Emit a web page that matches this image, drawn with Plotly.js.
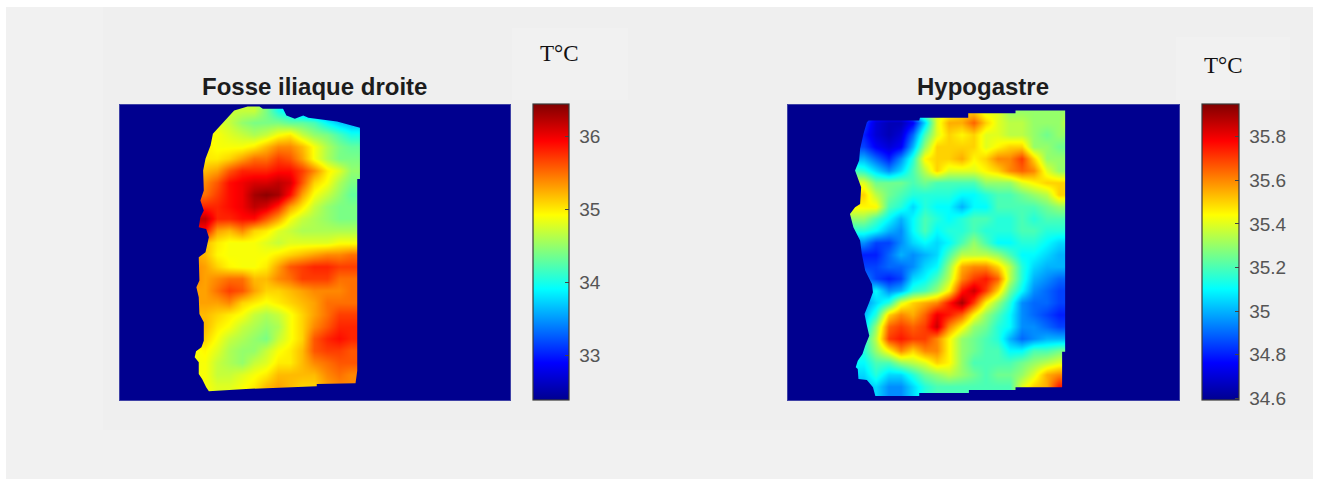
<!DOCTYPE html>
<html>
<head>
<meta charset="utf-8">
<script src="https://cdn.plot.ly/plotly-3.0.1.min.js"></script>
<style>html,body{margin:0;padding:0;background:#fff}#chart{width:1318px;height:479px}</style>
</head>
<body>
<div id="chart"></div>
<script>
var titles = ["Fosse iliaque droite", "Hypogastre"];
var unitLabel = "T°C";
var rows = [270,306,342,378,414,450,486,522,558,594,630,666,702,738,774,810,846,882,918,954,990,1026,1062,1098,1134];
var leftCols = [273,309,345,381,417,453,489,525,561,597,633,669,705,741,777];
var rightCols = [240,276,312,348,384,420,456,492,528,564,600,636,672,708,744,780,816,852,888];

var leftTemp = [
[34.7,34.7,34.7,34.7,34.7,34.7,34.4,34.0,33.8,33.5,33.4,33.3,33.3,33.3,33.3],
[34.8,34.8,34.8,34.7,34.5,34.4,34.4,34.4,34.3,34.3,34.2,33.9,33.7,33.6,33.6],
[34.9,34.9,34.9,34.8,34.7,34.6,34.7,34.9,35.0,34.7,34.5,34.4,34.2,34.0,34.0],
[35.0,35.0,34.9,34.9,34.9,35.0,35.2,35.4,35.4,35.2,34.9,34.6,34.4,34.3,34.3],
[35.0,35.0,35.0,35.1,35.3,35.5,35.5,35.7,35.6,35.3,34.9,34.6,34.4,34.4,34.4],
[35.2,35.2,35.3,35.6,35.8,35.8,35.8,35.9,35.9,35.7,35.4,35.0,34.8,34.5,34.5],
[35.4,35.4,35.6,35.9,36.0,36.1,36.1,36.2,36.1,35.6,35.1,34.9,34.6,34.4,34.4],
[35.5,35.5,35.7,35.9,36.0,36.3,36.4,36.3,35.9,35.3,34.9,34.7,34.5,34.3,34.3],
[35.8,35.8,35.8,35.9,36.0,36.2,36.1,35.8,35.3,35.0,34.7,34.5,34.4,34.4,34.4],
[36.2,36.2,35.8,35.8,35.9,35.9,35.6,35.3,34.9,34.7,34.6,34.5,34.4,34.4,34.4],
[35.9,35.9,35.3,35.2,35.4,35.1,35.0,34.8,34.7,34.6,34.6,34.6,34.6,34.6,34.6],
[35.2,35.2,35.0,34.9,34.9,34.9,34.8,34.7,34.8,34.8,34.8,34.8,34.9,34.9,34.9],
[35.3,35.2,34.95,34.9,34.9,34.9,34.9,35.0,35.1,35.2,35.3,35.4,35.4,35.5,35.5],
[35.4,35.3,35.1,34.95,34.9,34.9,35.0,35.3,35.6,35.7,35.8,35.8,35.7,35.7,35.7],
[35.4,35.3,35.4,35.5,35.5,35.2,35.2,35.4,35.5,35.7,35.7,35.7,35.5,35.5,35.5],
[35.3,35.3,35.5,35.7,35.6,35.3,35.1,35.1,35.2,35.3,35.4,35.4,35.4,35.5,35.5],
[35.3,35.3,35.3,35.4,35.1,35.0,34.9,35.0,35.1,35.2,35.3,35.5,35.5,35.5,35.5],
[35.2,35.2,35.1,35.0,34.9,34.7,34.6,34.7,34.9,35.1,35.3,35.5,35.7,35.7,35.7],
[35.2,35.2,35.0,34.9,34.7,34.6,34.5,34.6,34.9,35.1,35.4,35.6,35.8,35.8,35.8],
[35.1,35.1,34.9,34.7,34.6,34.5,34.4,34.7,34.9,35.1,35.6,35.8,35.9,35.8,35.8],
[34.9,34.95,34.8,34.6,34.5,34.5,34.7,34.9,35.0,35.2,35.6,35.7,35.7,35.6,35.6],
[34.9,34.9,34.7,34.6,34.5,34.7,34.8,35.0,35.0,35.2,35.4,35.5,35.6,35.6,35.6],
[34.9,34.9,34.7,34.7,34.8,34.9,35.0,35.2,35.2,35.2,35.2,35.4,35.5,35.4,35.4],
[34.9,34.9,34.8,34.8,34.9,35.0,35.2,35.3,35.2,35.1,35.1,35.3,35.4,35.4,35.4],
[34.9,34.9,34.8,34.8,34.9,35.0,35.2,35.3,35.2,35.1,35.1,35.3,35.4,35.4,35.4]
];
var rightTemp = [
[34.9,34.9,34.9,34.9,34.9,35.1,35.3,35.4,35.4,35.5,35.5,35.4,35.4,35.3,35.3,35.3,35.3,35.3,35.3],
[34.85,34.85,34.7,34.65,34.65,34.75,35.05,35.4,35.55,35.55,35.65,35.5,35.4,35.35,35.35,35.3,35.3,35.3,35.4],
[34.8,34.8,34.7,34.65,34.7,34.9,35.2,35.4,35.5,35.45,35.5,35.4,35.4,35.35,35.35,35.3,35.25,35.3,35.3],
[34.85,34.85,34.75,34.7,34.75,35.0,35.3,35.5,35.5,35.5,35.5,35.4,35.45,35.5,35.5,35.3,35.3,35.25,35.25],
[35.0,35.0,34.9,34.8,34.95,35.15,35.45,35.5,35.5,35.55,35.45,35.5,35.6,35.6,35.7,35.5,35.3,35.3,35.3],
[35.2,35.15,35.05,34.95,35.05,35.2,35.35,35.5,35.4,35.4,35.4,35.45,35.5,35.6,35.65,35.6,35.4,35.3,35.3],
[35.4,35.4,35.25,35.25,35.25,35.2,35.25,35.2,35.2,35.2,35.2,35.3,35.3,35.3,35.4,35.45,35.5,35.5,35.5],
[35.5,35.5,35.35,35.25,35.2,35.15,35.15,35.15,35.15,35.1,35.1,35.15,35.2,35.2,35.25,35.3,35.35,35.5,35.5],
[35.45,35.45,35.45,35.2,35.15,35.05,35.15,35.1,35.1,35.0,35.1,35.1,35.2,35.2,35.2,35.2,35.25,35.3,35.3],
[35.3,35.3,35.2,35.1,35.0,35.1,35.2,35.15,35.1,35.15,35.2,35.2,35.15,35.15,35.2,35.15,35.2,35.2,35.2],
[35.15,35.15,35.1,35.0,34.95,35.1,35.2,35.1,35.15,35.15,35.2,35.15,35.15,35.15,35.2,35.2,35.15,35.15,35.15],
[34.95,34.95,34.85,34.85,34.95,35.05,35.1,35.05,35.1,35.2,35.3,35.2,35.1,35.1,35.15,35.15,35.1,35.05,35.05],
[34.8,34.8,34.8,34.9,35.0,34.95,35.0,35.05,35.2,35.35,35.35,35.35,35.3,35.2,35.1,35.1,35.05,35.0,35.0],
[34.85,34.85,34.85,34.9,34.9,34.95,35.05,35.1,35.3,35.55,35.6,35.6,35.5,35.35,35.15,35.05,35.0,35.0,35.0],
[34.95,34.95,34.85,34.8,34.85,35.05,35.1,35.2,35.35,35.6,35.7,35.75,35.65,35.35,35.15,35.0,34.95,34.9,34.9],
[35.0,35.0,35.1,34.95,35.0,35.15,35.2,35.3,35.45,35.75,35.85,35.7,35.5,35.25,35.1,34.95,34.9,34.85,34.85],
[34.95,34.95,35.05,35.15,35.4,35.5,35.55,35.6,35.75,35.9,35.7,35.45,35.3,35.15,34.95,34.9,34.9,34.85,34.85],
[35.0,35.0,35.15,35.5,35.6,35.55,35.65,35.8,35.75,35.65,35.45,35.3,35.2,35.1,34.95,34.9,34.85,34.8,34.8],
[35.05,35.05,35.3,35.65,35.7,35.65,35.7,35.85,35.6,35.45,35.3,35.25,35.15,35.1,34.95,34.95,34.9,34.85,34.85],
[35.15,35.15,35.35,35.7,35.75,35.7,35.7,35.6,35.45,35.3,35.25,35.2,35.15,35.0,34.9,34.95,35.0,35.0,35.0],
[35.15,35.15,35.3,35.45,35.6,35.5,35.6,35.6,35.45,35.3,35.25,35.2,35.2,35.1,35.1,35.2,35.2,35.25,35.25],
[35.1,35.1,35.2,35.2,35.3,35.35,35.4,35.5,35.45,35.3,35.2,35.2,35.2,35.2,35.25,35.3,35.35,35.4,35.4],
[35.05,35.05,35.15,35.05,35.05,35.15,35.25,35.3,35.35,35.3,35.25,35.2,35.25,35.25,35.3,35.4,35.55,35.6,35.6],
[35.0,35.0,35.05,34.95,34.95,35.05,35.15,35.2,35.2,35.2,35.2,35.2,35.2,35.2,35.4,35.5,35.55,35.75,35.75],
[35.0,35.0,35.05,34.95,34.95,35.05,35.15,35.2,35.2,35.2,35.2,35.2,35.2,35.2,35.4,35.5,35.55,35.75,35.75]
];

// Outline of the measured skin area, in the same axis units as rows / columns
var leftEdgeX = [435,470,480,540,550,575,600,615,700,768,768,760,760,755,640,640,540,430,320,312,300,290,290,278,282,298,305,305,292,290,283,292,290,310,320,312,290,295,305,295,305,303,310,325,332,350,375,395,435];
var leftEdgeY = [258,258,265,265,285,295,285,292,303,322,475,475,1050,1088,1090,1097,1100,1105,1112,1100,1075,1060,1025,1010,992,980,960,905,880,830,800,780,710,695,650,625,620,590,570,540,510,450,415,375,340,320,295,270,258];
var rightEdgeX = [585,585,725,725,872,872,863,863,725,725,587,587,440,440,310,303,285,260,258,252,258,272,280,292,285,278,292,303,300,280,270,265,245,235,250,265,268,258,250,262,265,275,285,290,440,442,585];
var rightEdgeY = [292,278,278,270,270,993,993,1100,1100,1108,1108,1117,1117,1126,1126,1100,1078,1075,1045,1040,1020,1000,975,945,915,880,845,815,790,750,700,660,620,580,560,550,500,470,450,420,385,340,305,300,300,292,292];

var leftTicks = [33,34,35,36];
var leftTickText = ["33","34","35","36"];
var rightTicks = [34.6,34.8,35,35.2,35.4,35.6,35.8];
var rightTickText = ["34.6","34.8","35","35.2","35.4","35.6","35.8"];
var leftRange = [32.39,36.45];
var rightRange = [34.592,35.95];

var W = 1318, H = 479;
function fx(p){return p/W;}
function fy(p){return 1-p/H;}
var jet = [[0,'rgb(0,0,143)'],[0.125,'rgb(0,0,255)'],[0.375,'rgb(0,255,255)'],[0.625,'rgb(255,255,0)'],[0.875,'rgb(255,0,0)'],[1,'rgb(128,0,0)']];
var BG = '#00008f';

function heat(cols, z, range, xa, ya, cbLeft, ticks, tickText){
  return {type:'heatmap', x:cols, y:rows, z:z, xaxis:xa, yaxis:ya, zmin:range[0], zmax:range[1],
    zsmooth:'best', colorscale:jet, hoverinfo:'skip',
    colorbar:{x:fx(cbLeft.x), xanchor:'left', thickness:cbLeft.w, thicknessmode:'pixels', xpad:0, ypad:0,
      y:fy(104), yanchor:'top', len:296/H, lenmode:'fraction', outlinecolor:'#3a3a3a', outlinewidth:1.2,
      tickmode:'array', tickvals:ticks, ticktext:tickText.map(function(t){return '\u00a0'+t;}), ticks:'inside', ticklen:4, tickcolor:'#444',
      tickfont:{family:'Liberation Sans, Arial, sans-serif', size:19, color:'#555'}}};
}
function mask(ex, ey, xr, yr, xa, ya){
  // dark background around the outline: axis frame, bridge, outline (opposite winding)
  var x = [xr[0],xr[0],xr[1],xr[1],ex[0]].concat(ex,[ex[0],xr[0]]);
  var y = [yr[1],yr[0],yr[0],yr[1],yr[1]].concat(ey,[yr[1],yr[1]]);
  return {type:'scatter', mode:'lines', x:x, y:y, xaxis:xa, yaxis:ya, fill:'toself', fillcolor:BG,
    line:{width:0, color:BG}, hoverinfo:'skip', showlegend:false};
}
var leftX = [55,1213], rightX = [50,1209], frameY = [1138,252];
var data = [
  heat(leftCols, leftTemp, leftRange, 'x', 'y', {x:533,w:36}, leftTicks, leftTickText),
  mask(leftEdgeX, leftEdgeY, leftX, frameY, 'x', 'y'),
  heat(rightCols, rightTemp, rightRange, 'x2', 'y2', {x:1202,w:37}, rightTicks, rightTickText),
  mask(rightEdgeX, rightEdgeY, rightX, frameY, 'x2', 'y2')
];
function axis(range, domain, anchor){
  return {range:range, domain:domain, anchor:anchor, showgrid:false, zeroline:false, showticklabels:false, ticks:'',
    showline:true, mirror:true, linecolor:'#3f42a6', linewidth:1};
}
function box(x0,y0,x1,y1,c){
  return {type:'rect', xref:'paper', yref:'paper', x0:fx(x0), x1:fx(x1), y0:fy(y1), y1:fy(y0),
    fillcolor:c, line:{width:0}, layer:'below'};
}
function note(text,x,y,font){
  return {text:text, xref:'paper', yref:'paper', x:fx(x), y:fy(y), xanchor:'center', yanchor:'middle', showarrow:false, font:font};
}
var titleFont = {family:'Liberation Sans, Arial, sans-serif', size:24, color:'#1c1c1c', weight:700};
var unitFont = {family:'Liberation Serif, Times New Roman, serif', size:23, color:'#111'};
var layout = {
  width:W, height:H, margin:{l:0,r:0,t:0,b:0}, paper_bgcolor:'#fff', plot_bgcolor:BG, showlegend:false,
  xaxis:axis(leftX,[fx(119.5),fx(510)],'y'),
  yaxis:axis(frameY,[fy(400),fy(104.5)],'x'),
  xaxis2:axis(rightX,[fx(787.5),fx(1179)],'y2'),
  yaxis2:axis(frameY,[fy(400),fy(104.5)],'x2'),
  shapes:[
    box(6,7,1313,479,'#f1f1f1'),
    box(103,7,1313,430,'#efefef'),
    box(512,28,628,100,'#f1f1f1'),
    box(1176,37,1290,100,'#f1f1f1')
  ],
  annotations:[
    note(titles[0],314,86,titleFont),
    note(titles[1],983,86,titleFont),
    note(unitLabel,559,53,unitFont),
    note(unitLabel,1223,65,unitFont)
  ]
};
Plotly.newPlot('chart', data, layout, {displayModeBar:false, staticPlot:true});
</script>
</body>
</html>
